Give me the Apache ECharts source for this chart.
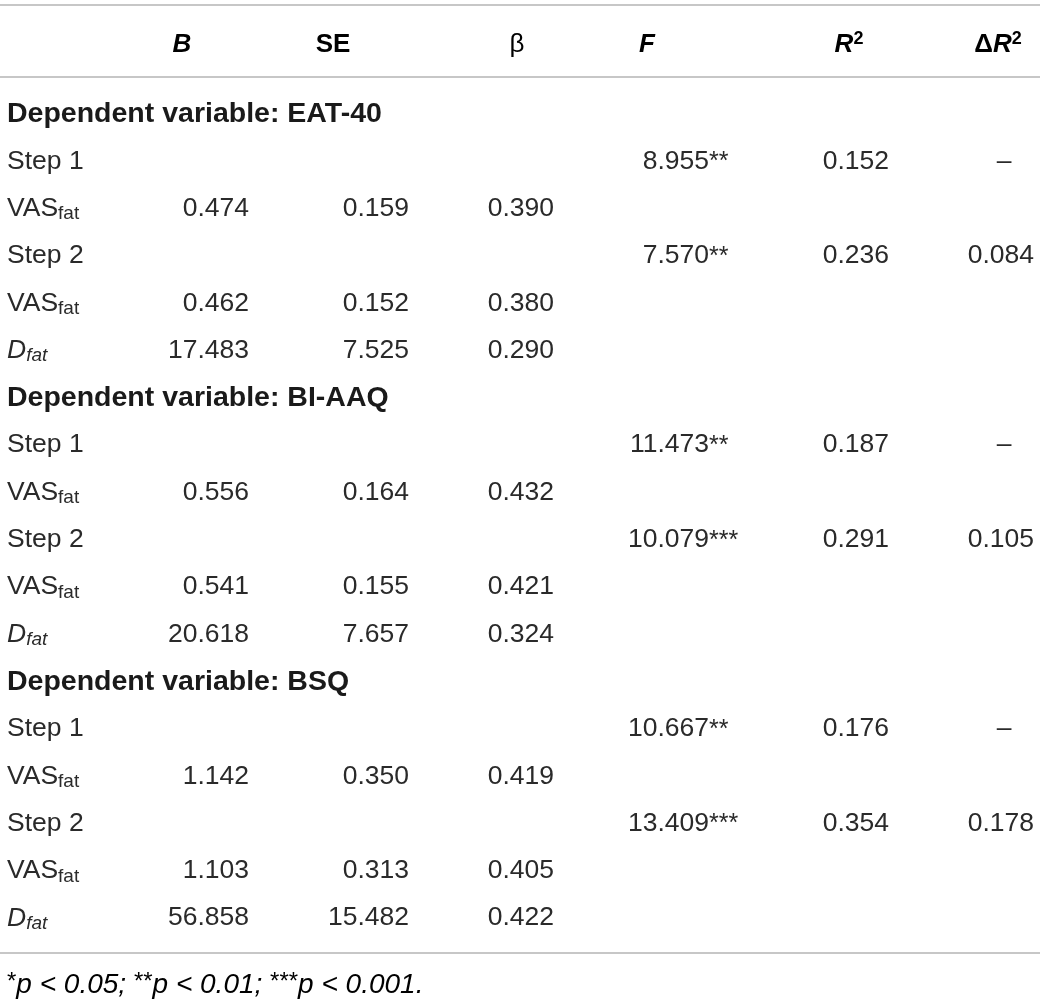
<!DOCTYPE html>
<html><head><meta charset="utf-8">
<script src="https://cdn.jsdelivr.net/npm/echarts@6/dist/echarts.min.js"></script>
<style>html,body{margin:0;padding:0;background:#fff}#c{width:1040px;height:1001px}</style>
</head><body><div id="c"></div>
<script>
// ---- data ----
const rowLabels = [
  'Dependent variable: EAT-40', 'Step 1', 'VAS_fat', 'Step 2', 'VAS_fat', 'D_fat',
  'Dependent variable: BI-AAQ', 'Step 1', 'VAS_fat', 'Step 2', 'VAS_fat', 'D_fat',
  'Dependent variable: BSQ', 'Step 1', 'VAS_fat', 'Step 2', 'VAS_fat', 'D_fat'
];
const colB    = [null, null, 0.474, null, 0.462, 17.483, null, null, 0.556, null, 0.541, 20.618, null, null, 1.142, null, 1.103, 56.858];
const colSE   = [null, null, 0.159, null, 0.152, 7.525,  null, null, 0.164, null, 0.155, 7.657,  null, null, 0.350, null, 0.313, 15.482];
const colBeta = [null, null, 0.390, null, 0.380, 0.290,  null, null, 0.432, null, 0.421, 0.324,  null, null, 0.419, null, 0.405, 0.422];
const colF    = [null, 8.955, null, 7.570, null, null,   null, 11.473, null, 10.079, null, null, null, 10.667, null, 13.409, null, null];
const colFSig = [null, '**', null, '**', null, null,     null, '**', null, '***', null, null,    null, '**', null, '***', null, null];
const colR2   = [null, 0.152, null, 0.236, null, null,   null, 0.187, null, 0.291, null, null,   null, 0.176, null, 0.354, null, null];
const colDR2  = [null, '–', null, 0.084, null, null,     null, '–', null, 0.105, null, null,     null, '–', null, 0.178, null, null];
const headers = ['B', 'SE', 'β', 'F', 'R2', 'ΔR2'];
const footnote = '*p < 0.05; **p < 0.01; ***p < 0.001.';

// ---- layout / style ----
const FONT = '"Liberation Sans", Arial, Helvetica, sans-serif';
const TXT = '#2a2a2a';
const FS = 26.5;
const X = { B: 249, SE: 409, beta: 554, F: 709, R2: 889, DR2: 1034, DR2c: 1004 };
const HX = { B: 182, SE: 333, beta: 517, F: 647, R2: 849, DR2: 998 };

const rich = {
  n:   { fontFamily: FONT, fontSize: FS, color: TXT, lineHeight: 30 },
  g:   { fontFamily: FONT, fontSize: 28.5, color: '#1a1a1a', fontWeight: 'bold', lineHeight: 30 },
  it:  { fontFamily: FONT, fontSize: FS, color: TXT, fontStyle: 'italic', lineHeight: 30 },
  sub: { fontFamily: FONT, fontSize: 19, color: TXT, lineHeight: 18, verticalAlign: 'bottom' },
  isub:{ fontFamily: FONT, fontSize: 19, color: TXT, fontStyle: 'italic', lineHeight: 18, verticalAlign: 'bottom' }
};

function labelFmt(s) {
  if (s.indexOf('Dependent') === 0) return '{g|' + s + '}';
  if (s === 'VAS_fat') return '{n|VAS}{sub|fat}';
  if (s === 'D_fat') return '{it|D}{isub|fat}';
  return '{n|' + s + '}';
}

function fmt3(v) { return typeof v === 'number' ? v.toFixed(3) : v; }

function cellSeries(name, values, x, align, fmt, extra) {
  const data = [];
  values.forEach((v, i) => { if (v !== null && v !== undefined) data.push([x, i, v]); });
  return {
    name, type: 'scatter', symbolSize: 0, silent: true, data,
    itemStyle: { opacity: 1, color: TXT },
    label: Object.assign({
      show: true, position: [0, 0], align, verticalAlign: 'middle',
      fontFamily: FONT, fontSize: FS, color: TXT, textBorderWidth: 0, opacity: 1,
      formatter: p => fmt(p.value[2])
    }, extra || {})
  };
}

const chart = echarts.init(document.getElementById('c'), null, { renderer: 'canvas' });

const hdrBold = { fontFamily: FONT, fontSize: 26, fontWeight: 'bold', color: '#1a1a1a' };
const hdrRich = {
  bi:  Object.assign({}, hdrBold, { fontStyle: 'italic', lineHeight: 30 }),
  b:   Object.assign({}, hdrBold, { lineHeight: 30 }),
  r:   { fontFamily: FONT, fontSize: 26, color: '#1a1a1a', lineHeight: 30 },
  sup: Object.assign({}, hdrBold, { fontSize: 18, lineHeight: 18, verticalAlign: 'top' })
};
function hdrText(h) {
  if (h === 'B' || h === 'F') return '{bi|' + h + '}';
  if (h === 'SE') return '{b|SE}';
  if (h === 'β') return '{r|β}';
  if (h === 'R2') return '{bi|R}{sup|2}';
  if (h === 'ΔR2') return '{b|Δ}{bi|R}{sup|2}';
  return h;
}
const hdrKeys = ['B', 'SE', 'beta', 'F', 'R2', 'DR2'];

const graphics = [
  { type: 'line', shape: { x1: 0, y1: 5, x2: 1040, y2: 5 }, style: { stroke: '#b4b4b4', lineWidth: 1.5 } },
  { type: 'line', shape: { x1: 0, y1: 77, x2: 1040, y2: 77 }, style: { stroke: '#b4b4b4', lineWidth: 1.5 } },
  { type: 'line', shape: { x1: 0, y1: 953, x2: 1040, y2: 953 }, style: { stroke: '#b4b4b4', lineWidth: 1.5 } }
];
headers.forEach((h, k) => {
  graphics.push({
    type: 'text', x: HX[hdrKeys[k]], y: 45,
    style: { text: hdrText(h), rich: hdrRich, align: 'center', verticalAlign: 'middle' }
  });
});
// footnote
const fnRich = {
  st: { fontFamily: FONT, fontSize: 24, color: TXT, lineHeight: 30, verticalAlign: 'top' },
  it: { fontFamily: FONT, fontSize: 28, color: TXT, fontStyle: 'italic', lineHeight: 30 }
};
const fnText = footnote.replace(/(\*+)([^*]+)/g, '{st|$1}{it|$2}');
graphics.push({
  type: 'text', x: 7, y: 985,
  style: { text: fnText, rich: fnRich, align: 'left', verticalAlign: 'middle' }
});

const option = {
  backgroundColor: '#fff',
  animation: false,
  grid: { left: 0, right: 0, top: 90.4, bottom: 59.2 },
  xAxis: { type: 'value', min: 0, max: 1040, show: false },
  yAxis: {
    type: 'category', data: rowLabels, inverse: true,
    axisLine: { show: false }, axisTick: { show: false }, splitLine: { show: false },
    axisLabel: { interval: 0, align: 'left', margin: -7, formatter: labelFmt, rich: rich }
  },
  series: [
    cellSeries('B', colB, X.B, 'right', fmt3),
    cellSeries('SE', colSE, X.SE, 'right', fmt3),
    cellSeries('beta', colBeta, X.beta, 'right', fmt3),
    cellSeries('F', colF, X.F, 'right', fmt3),
    cellSeries('Fsig', colFSig, X.F, 'left', v => v, { fontSize: 25, offset: [0, 1] }),
    cellSeries('R2', colR2, X.R2, 'right', fmt3),
    cellSeries('DR2', colDR2.map(v => typeof v === 'number' ? v : null), X.DR2, 'right', fmt3),
    cellSeries('DR2dash', colDR2.map(v => typeof v === 'string' ? v : null), X.DR2c, 'center', v => v)
  ],
  graphic: graphics
};
chart.setOption(option);
</script>
</body></html>
